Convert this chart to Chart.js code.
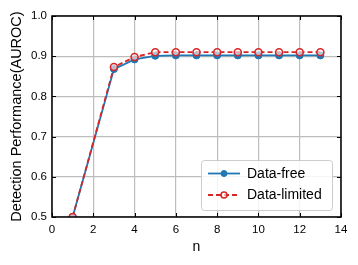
<!DOCTYPE html>
<html>
<head>
<meta charset="utf-8">
<script src="https://cdn.jsdelivr.net/npm/chart.js@4/dist/chart.umd.min.js"></script>
<style>
  html, body { margin: 0; padding: 0; background: #fff; }
</style>
</head>
<body>
<canvas id="chart" width="358" height="265"></canvas>
<script>
const nValues = [1, 3, 4, 5, 6, 7, 8, 9, 10, 11, 12, 13];
const dataFree = [0.500, 0.868, 0.892, 0.901, 0.902, 0.902, 0.902, 0.902, 0.902, 0.902, 0.902, 0.902];
const dataLimited = [0.500, 0.873, 0.898, 0.910, 0.910, 0.910, 0.910, 0.910, 0.910, 0.910, 0.910, 0.910];
const seriesLabels = ['Data-free', 'Data-limited'];
const xRange = [0, 14];
const yRange = [0.5, 1.0];

const FONT = "'Liberation Sans', Arial, sans-serif";
const BLUE = '#1f77b4';
const RED = '#d62728';

const toPoints = (ys) => nValues.map((n, i) => ({ x: n, y: ys[i] }));

// matplotlib-like frame with inward ticks on all four sides
const framePlugin = {
  id: 'frame',
  afterDatasetsDraw(chart) {
    const { ctx, chartArea: a, scales } = chart;
    ctx.save();
    ctx.strokeStyle = '#000';
    ctx.lineWidth = 1;
    const len = 4;
    scales.x.ticks.forEach((t) => {
      const px = Math.round(scales.x.getPixelForValue(t.value)) + 0.5;
      ctx.beginPath();
      ctx.moveTo(px, a.bottom); ctx.lineTo(px, a.bottom - len);
      ctx.moveTo(px, a.top); ctx.lineTo(px, a.top + len);
      ctx.stroke();
    });
    scales.y.ticks.forEach((t) => {
      const py = Math.round(scales.y.getPixelForValue(t.value)) + 0.5;
      ctx.beginPath();
      ctx.moveTo(a.left, py); ctx.lineTo(a.left + len, py);
      ctx.moveTo(a.right, py); ctx.lineTo(a.right - len, py);
      ctx.stroke();
    });
    ctx.lineWidth = 1.5;
    ctx.strokeRect(a.left, a.top, a.right - a.left, a.bottom - a.top);
    ctx.restore();
  }
};

// legend box inside the plot, lower right
const legendPlugin = {
  id: 'innerLegend',
  afterDraw(chart) {
    const { ctx } = chart;
    const box = { x: 201.5, y: 160.5, w: 131, h: 50 };
    ctx.save();
    ctx.fillStyle = 'rgba(255,255,255,0.85)';
    ctx.strokeStyle = '#cccccc';
    ctx.lineWidth = 1;
    ctx.beginPath();
    ctx.roundRect(box.x, box.y, box.w, box.h, 3);
    ctx.fill();
    ctx.stroke();

    chart.data.datasets.forEach((ds, i) => {
      const y = 173.5 + i * 21.5;
      ctx.strokeStyle = ds.borderColor;
      ctx.lineWidth = ds.borderWidth;
      ctx.setLineDash(ds.borderDash || []);
      ctx.beginPath();
      ctx.moveTo(208, y); ctx.lineTo(240, y);
      ctx.stroke();
      ctx.setLineDash([]);
      ctx.beginPath();
      ctx.arc(224, y, 3, 0, Math.PI * 2);
      ctx.fillStyle = ds.pointBackgroundColor;
      ctx.fill();
      ctx.lineWidth = ds.pointBorderWidth;
      ctx.strokeStyle = ds.pointBorderColor;
      ctx.stroke();
      ctx.fillStyle = '#000';
      ctx.font = `14px ${FONT}`;
      ctx.textBaseline = 'middle';
      ctx.fillText(ds.label, 247, y + 0.5);
    });
    ctx.restore();
  }
};

new Chart(document.getElementById('chart'), {
  type: 'line',
  data: {
    datasets: [
      {
        label: seriesLabels[0],
        data: toPoints(dataFree),
        order: 1,
        borderColor: BLUE,
        backgroundColor: BLUE,
        borderWidth: 1.8,
        pointRadius: 3.5,
        pointBackgroundColor: BLUE,
        pointBorderColor: BLUE,
        pointBorderWidth: 1,
        tension: 0
      },
      {
        label: seriesLabels[1],
        data: toPoints(dataLimited),
        order: 0,
        borderColor: RED,
        backgroundColor: '#fff',
        borderWidth: 1.8,
        borderDash: [5, 3],
        pointRadius: 3.5,
        pointBackgroundColor: 'rgba(255,255,255,0.6)',
        pointBorderColor: RED,
        pointBorderWidth: 1.6,
        tension: 0
      }
    ]
  },
  options: {
    responsive: false,
    animation: false,
    devicePixelRatio: 1,
    layout: { padding: { left: 8, top: 16, right: 17, bottom: 9 } },
    plugins: { legend: { display: false }, tooltip: { enabled: false } },
    scales: {
      x: {
        type: 'linear',
        min: xRange[0],
        max: xRange[1],
        afterFit: (s) => { s.height = 39; },
        ticks: { stepSize: 2, color: '#000', padding: 6, maxRotation: 0, font: { family: FONT, size: 11.5 } },
        grid: { color: '#bdbdbd', lineWidth: 1.2, drawTicks: false },
        border: { display: false },
        title: { display: true, text: 'n', color: '#000', font: { family: FONT, size: 14 }, padding: 0 }
      },
      y: {
        min: yRange[0],
        max: yRange[1],
        afterFit: (s) => { s.width = 44; },
        ticks: { stepSize: 0.1, color: '#000', padding: 5, font: { family: FONT, size: 11.5 }, callback: (v) => v.toFixed(1) },
        grid: { color: '#bdbdbd', lineWidth: 1.2, drawTicks: false },
        border: { display: false },
        title: { display: true, text: 'Detection Performance(AUROC)', color: '#000', font: { family: FONT, size: 14.5 }, padding: 0 }
      }
    }
  },
  plugins: [framePlugin, legendPlugin]
});
</script>
</body>
</html>
